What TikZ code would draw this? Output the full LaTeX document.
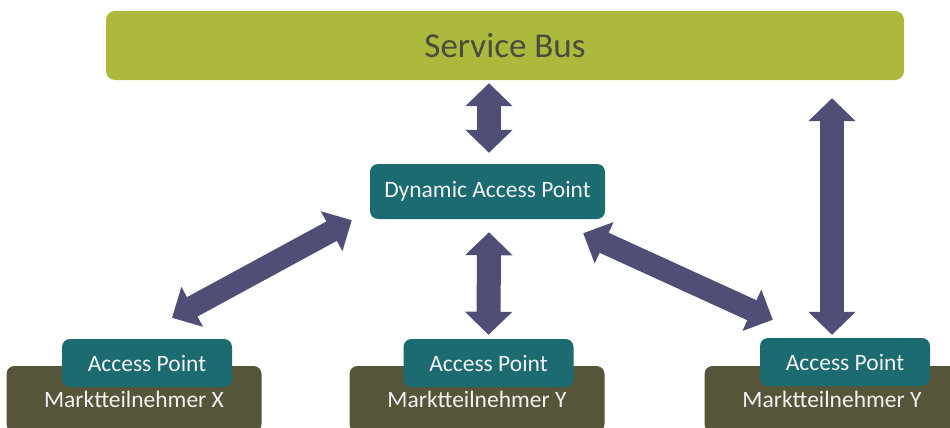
\documentclass[tikz,border=0pt]{standalone}
\usepackage{fontspec}
\setmainfont{Carlito}
\usetikzlibrary{arrows.meta,calc}
\definecolor{busgreen}{HTML}{ADB93D}
\definecolor{apteal}{HTML}{1C6B70}
\definecolor{mtolive}{HTML}{56553A}
\definecolor{arrowpurple}{HTML}{4F4E76}
\definecolor{bustext}{HTML}{4B4B3E}
\definecolor{lighttext}{HTML}{F2F2F2}
\tikzset{
  busbox/.style={fill=busgreen, rounded corners=9pt, minimum width=798pt, minimum height=69pt, inner sep=0pt,
    text=bustext, font=\fontsize{35}{40}\selectfont},
  dapbox/.style={fill=apteal, rounded corners=8pt, minimum width=235pt, minimum height=55pt, inner sep=0pt,
    text=lighttext, font=\fontsize{23.5}{28}\selectfont},
  apbox/.style={fill=apteal, rounded corners=8pt, minimum width=170pt, minimum height=48pt, inner sep=0pt,
    text=lighttext, font=\fontsize{23.5}{28}\selectfont},
  mtbox/.style={fill=mtolive, rounded corners=8pt, minimum width=255pt, minimum height=66pt, inner sep=0pt,
    text=lighttext, font=\fontsize{23.5}{28}\selectfont},
  dblarrow/.style={draw=arrowpurple, line width=24pt,
    {Triangle[length=23pt,width=46pt,fill=arrowpurple]}-{Triangle[length=23pt,width=46pt,fill=arrowpurple]}},
  diagarrow/.style={draw=arrowpurple, line width=22pt,
    {Triangle[length=23pt,width=44pt,fill=arrowpurple]}-{Triangle[length=23pt,width=44pt,fill=arrowpurple]}},
}
\begin{document}
\begin{tikzpicture}[x=1pt,y=-1pt]
\useasboundingbox (0,0) rectangle (950,428);
\clip (0,0) rectangle (950,428);
\fill[white] (0,0) rectangle (950,428);
% bus
\node[busbox] (sb) at (505,45.5) {Service Bus};
\node[dapbox] (dap) at (487.5,191.5) {\raisebox{-2pt}{Dynamic Access Point}};
% market participants
\node[mtbox] (mtx) at (134,399) {\raisebox{-1pt}{Marktteilnehmer X}};
\node[mtbox] (mty) at (477,399) {\raisebox{-1pt}{Marktteilnehmer Y}};
\node[mtbox] (mtyr) at (832,399) {\raisebox{-1pt}{Marktteilnehmer Y}};
\node[apbox] (apx) at (147,363) {Access Point};
\node[apbox] (apm) at (488.5,363) {Access Point};
\node[apbox] (apr) at (845,362) {Access Point};
% arrows
\draw[dblarrow] ([xshift=1.5pt,yshift=-3pt]sb.south -| dap) -- ([xshift=1.5pt,yshift=11pt]dap.north);
\draw[dblarrow] ([xshift=1.5pt,yshift=-13pt]dap.south) -- ([yshift=4pt]apm.north);
\draw[dblarrow] ([yshift=-18pt]sb.south -| mtyr) -- ([yshift=3pt]apr.north -| mtyr);
\draw[diagarrow] ([xshift=-18pt,yshift=-1pt]dap.south west) -- ([xshift=25pt,yshift=21pt]apx.north);
\draw[diagarrow] ([xshift=-22pt,yshift=-14pt]dap.south east) -- ([xshift=13pt,yshift=18pt]apr.north west);
\end{tikzpicture}
\end{document}
